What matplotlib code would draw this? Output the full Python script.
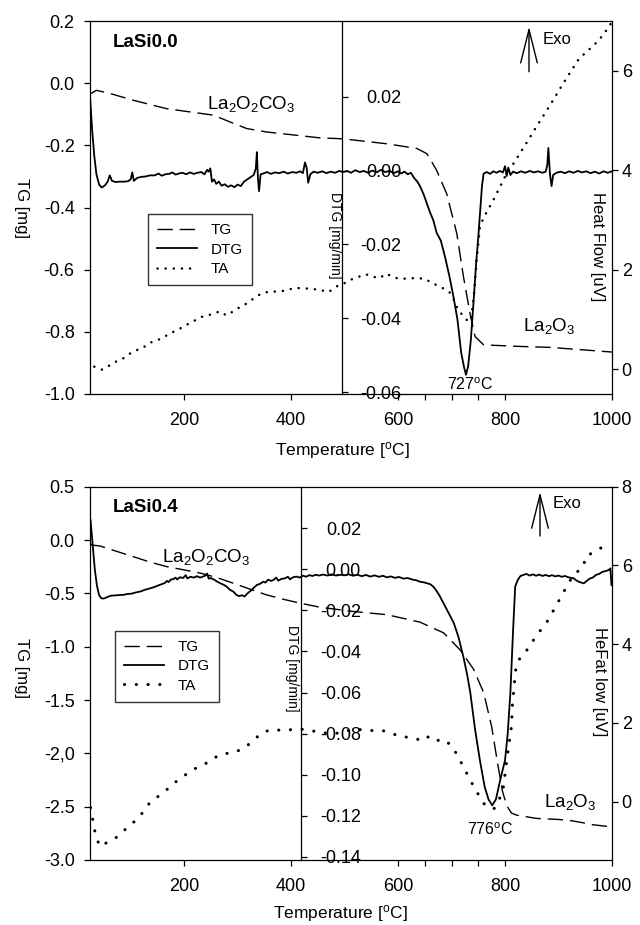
import matplotlib
matplotlib.use('Agg')
import matplotlib.pyplot as plt

plt.rcParams['font.family'] = ['Liberation Sans', 'DejaVu Sans']
plt.rcParams['mathtext.fontset'] = 'custom'
plt.rcParams['mathtext.rm'] = 'Liberation Sans'
plt.rcParams['mathtext.it'] = 'Liberation Sans:italic'
plt.rcParams['mathtext.bf'] = 'Liberation Sans:bold'
plt.rcParams['axes.unicode_minus'] = False

# ---------------- DATA : LaSi0.0 (top) ----------------
top_tg_T = [24, 36, 61, 105, 167, 255, 286, 317, 354, 454, 497, 579, 635, 654, 672, 691,
            710, 722, 735, 744, 760, 828, 884, 1000]
top_tg = [-0.035, -0.023, -0.033, -0.055, -0.082, -0.103, -0.125, -0.146, -0.157, -0.176,
          -0.179, -0.195, -0.210, -0.227, -0.280, -0.356, -0.485, -0.620, -0.745, -0.815,
          -0.842, -0.847, -0.850, -0.865]

top_dtg_T = [24, 28, 32, 36, 41, 46, 52, 57, 61, 65, 72, 80, 88, 95, 100, 103, 106, 112, 120,
             128, 136, 145, 152, 158, 165, 172, 178, 184, 190, 197, 204, 211, 218, 225, 232,
             238, 243, 246, 249, 252, 256, 260, 265, 270, 276, 282, 288, 294, 300, 306, 312,
             318, 324, 330, 334, 336, 338, 340, 343, 348, 355, 362, 370, 378, 386, 394, 402,
             410, 417, 422, 426, 429, 432, 436, 442, 450, 458, 466, 474, 482, 490, 497, 505,
             512, 520, 528, 536, 544, 552, 560, 568, 576, 584, 592, 600, 606, 612, 618, 624,
             630, 636, 641, 648, 654, 660, 666, 672, 680, 688, 696, 704, 711, 718, 723, 727,
             731, 736, 741, 746, 750, 754, 757, 760, 766, 772, 778, 784, 790, 796, 800, 803,
             806, 810, 815, 822, 830, 838, 846, 854, 862, 870, 876, 879, 881, 884, 887, 890,
             896, 904, 912, 920, 928, 936, 944, 952, 960, 968, 976, 984, 992, 1000]
top_dtg = [0.020, 0.011, 0.004, -0.001, -0.0038, -0.0046, -0.0040, -0.0030, -0.0013, -0.0028,
           -0.0031, -0.0030, -0.0030, -0.0029, -0.0024, -0.0005, -0.0028, -0.0020, -0.0017,
           -0.0016, -0.0013, -0.0013, -0.0008, -0.0014, -0.0010, -0.0009, -0.0005, -0.0011,
           -0.0008, -0.0006, -0.0010, -0.0005, -0.0009, -0.0006, -0.0004, -0.0010, 0.0002,
           -0.0003, 0.0006, -0.0030, -0.0024, -0.0036, -0.0030, -0.0041, -0.0037, -0.0044,
           -0.0040, -0.0045, -0.0038, -0.0042, -0.0030, -0.0024, -0.0018, -0.0012, 0.0005,
           0.0050, -0.0020, -0.0056, -0.0010, -0.0008, -0.0004, -0.0009, -0.0005, -0.0007,
           -0.0003, -0.0008, -0.0004, -0.0006, -0.0002, -0.0007, 0.0022, 0.0008, -0.0033,
           -0.0010, -0.0003, -0.0006, -0.0002, -0.0007, -0.0003, -0.0006, -0.0001, -0.0004,
           -0.0001, -0.0006, 0.0001, -0.0004, -0.0001, -0.0006, 0.0000, -0.0005, 0.0002,
           -0.0004, -0.0001, -0.0007, -0.0002, -0.0008, -0.0003, -0.0010, -0.0006, -0.0020,
           -0.0030, -0.0042, -0.0065, -0.0090, -0.0114, -0.0135, -0.0168, -0.0190, -0.0235,
           -0.0286, -0.0345, -0.0403, -0.0493, -0.0530, -0.0553, -0.0530, -0.0460, -0.0358,
           -0.0250, -0.0180, -0.0100, -0.0040, -0.0008, -0.0004, -0.0009, -0.0002, -0.0006,
           -0.0001, -0.0005, 0.0012, -0.0015, 0.0008, -0.0012, -0.0003, -0.0007, -0.0002,
           -0.0006, -0.0001, -0.0005, -0.0002, -0.0006, -0.0003, 0.0015, 0.0061, -0.0010,
           -0.0042, -0.0012, -0.0006, -0.0003, -0.0007, -0.0002, -0.0006, -0.0001, -0.0005,
           -0.0002, -0.0007, -0.0003, -0.0008, -0.0002, -0.0006, -0.0002]

top_ta_T = [32, 46, 60, 74, 84, 96, 108, 118, 130, 140, 150, 161, 176, 190, 199, 210, 222,
            232, 242, 255, 267, 279, 290, 300, 314, 330, 344, 360, 375, 390, 405, 417, 430,
            451, 470, 480, 489, 500, 512, 525, 539, 552, 566, 577, 590, 600, 615, 630, 650,
            662, 672, 685, 696, 705, 711, 718, 726, 732, 737, 742, 747, 753, 760, 768, 778,
            790, 803, 815, 828, 843, 859, 875, 890, 905, 921, 937, 952, 965, 978, 990, 998]
top_ta = [0.05, -0.01, 0.07, 0.16, 0.20, 0.30, 0.36, 0.42, 0.47, 0.55, 0.58, 0.64, 0.73, 0.80,
          0.86, 0.92, 0.99, 1.05, 1.07, 1.12, 1.16, 1.08, 1.15, 1.22, 1.30, 1.42, 1.52, 1.56,
          1.56, 1.58, 1.63, 1.63, 1.62, 1.60, 1.55, 1.62, 1.69, 1.73, 1.80, 1.85, 1.91, 1.86,
          1.83, 1.92, 1.86, 1.82, 1.82, 1.83, 1.82, 1.74, 1.69, 1.62, 1.55, 1.38, 1.22, 1.12,
          1.02, 0.95, 1.05, 1.50, 2.20, 2.85, 3.05, 3.20, 3.40, 3.65, 3.94, 4.12, 4.34, 4.60,
          4.88, 5.15, 5.41, 5.68, 5.95, 6.22, 6.38, 6.50, 6.65, 6.82, 6.95]

# ---------------- DATA : LaSi0.4 (bottom) ----------------
bot_tg_T = [25, 27, 43, 70, 105, 135, 167, 200, 230, 260, 292, 320, 354, 385, 417, 454, 516,
            579, 641, 685, 716, 741, 760, 775, 785, 795, 803, 812, 822, 859, 900, 922, 945,
            965, 1000]
bot_tg = [-0.035, -0.047, -0.056, -0.100, -0.156, -0.205, -0.249, -0.280, -0.310, -0.350,
          -0.405, -0.455, -0.514, -0.555, -0.592, -0.630, -0.670, -0.700, -0.770, -0.870,
          -1.030, -1.210, -1.430, -1.750, -2.060, -2.350, -2.490, -2.560, -2.580, -2.610,
          -2.620, -2.630, -2.650, -2.670, -2.690]

bot_dtg_T = [25, 29, 33, 37, 41, 45, 50, 56, 63, 70, 78, 86, 94, 102, 110, 118, 126, 134, 142,
             150, 158, 164, 168, 171, 175, 180, 184, 187, 192, 198, 203, 206, 212, 218, 224,
             230, 236, 240, 243, 246, 250, 256, 262, 268, 274, 280, 286, 292, 298, 303, 308,
             313, 318, 324, 330, 336, 342, 348, 352, 357, 362, 367, 372, 376, 382, 388, 394,
             398, 404, 410, 416, 422, 428, 434, 440, 446, 452, 460, 468, 476, 484, 492, 500,
             508, 516, 524, 532, 540, 548, 556, 564, 572, 579, 586, 594, 602, 610, 618, 626,
             634, 641, 648, 655, 660, 666, 672, 678, 685, 694, 704, 713, 722, 729, 735, 744,
             753, 762, 769, 776, 783, 791, 800, 805, 810, 815, 819, 824, 829, 834, 840, 846,
             852, 858, 864, 870, 876, 882, 888, 894, 900, 906, 912, 918, 924, 928, 934, 940,
             947, 952, 958, 964, 970, 976, 982, 988, 994, 997, 999]
bot_dtg = [0.024, 0.012, 0.000, -0.008, -0.0125, -0.0141, -0.0142, -0.0135, -0.0128, -0.0127,
           -0.0125, -0.0124, -0.0120, -0.0118, -0.0112, -0.0108, -0.0100, -0.0094, -0.0088,
           -0.0080, -0.0072, -0.0066, -0.0056, -0.0062, -0.0050, -0.0047, -0.0040, -0.0049,
           -0.0038, -0.0042, -0.0028, -0.0044, -0.0036, -0.0040, -0.0033, -0.0040, -0.0034,
           -0.0030, -0.0020, -0.0045, -0.0042, -0.0050, -0.0060, -0.0068, -0.0075, -0.0085,
           -0.0100, -0.0108, -0.0125, -0.0130, -0.0126, -0.0132, -0.0118, -0.0105, -0.0090,
           -0.0076, -0.0070, -0.0060, -0.0064, -0.0050, -0.0056, -0.0052, -0.0040, -0.0055,
           -0.0046, -0.0044, -0.0036, -0.0048, -0.0038, -0.0035, -0.0040, -0.0030, -0.0036,
           -0.0028, -0.0032, -0.0026, -0.0030, -0.0025, -0.0030, -0.0024, -0.0030, -0.0026,
           -0.0029, -0.0024, -0.0031, -0.0026, -0.0033, -0.0027, -0.0035, -0.0029, -0.0036,
           -0.0031, -0.0039, -0.0034, -0.0041, -0.0037, -0.0045, -0.0042, -0.0049, -0.0053,
           -0.0060, -0.0063, -0.0068, -0.0072, -0.0084, -0.0105, -0.0130, -0.0165, -0.0210,
           -0.0260, -0.0330, -0.0425, -0.0510, -0.0600, -0.0780, -0.0930, -0.1060, -0.1120,
           -0.1150, -0.1120, -0.1026, -0.0930, -0.0800, -0.0600, -0.0300, -0.0084, -0.0050,
           -0.0032, -0.0027, -0.0022, -0.0030, -0.0024, -0.0031, -0.0025, -0.0032, -0.0027,
           -0.0033, -0.0028, -0.0034, -0.0030, -0.0036, -0.0032, -0.0038, -0.0042, -0.0043,
           -0.0055, -0.0062, -0.0068, -0.0058, -0.0045, -0.0040, -0.0027, -0.0022, -0.0012,
           -0.0008, -0.0003, 0.0005, -0.0076]

bot_ta_T = [25, 30, 35, 43, 55, 68, 80, 90, 100, 111, 124, 136, 150, 167, 184, 199, 215, 230,
            245, 260, 275, 290, 302, 314, 330, 344, 360, 375, 390, 405, 420, 435, 451, 470,
            489, 505, 520, 540, 558, 573, 590, 604, 620, 642, 653, 668, 683, 699, 710, 722,
            733, 745, 753, 760, 771, 780, 790, 797, 801, 805, 812, 814, 820, 828, 837, 849,
            862, 877, 896, 915, 928, 947, 950, 962, 978, 993]
bot_ta = [-0.15, -0.52, -0.89, -1.14, -1.04, -0.95, -0.85, -0.70, -0.58, -0.46, -0.25, -0.02,
          0.12, 0.30, 0.50, 0.65, 0.80, 0.91, 1.00, 1.14, 1.22, 1.24, 1.30, 1.38, 1.56, 1.74,
          1.82, 1.82, 1.81, 1.84, 1.84, 1.82, 1.76, 1.74, 1.74, 1.80, 1.84, 1.82, 1.80, 1.80,
          1.72, 1.67, 1.63, 1.57, 1.67, 1.53, 1.59, 1.44, 1.20, 0.89, 0.60, 0.30, 0.12, -0.04,
          -0.17, -0.17, 0.09, 0.38, 0.81, 1.23, 1.91, 2.50, 3.35, 3.66, 3.77, 4.02, 4.28, 4.53,
          4.99, 5.46, 5.76, 5.97, 6.22, 6.31, 6.43, 6.60]

# tick labels
x_ticks = [200, 400, 600, 800, 1000]
x_minor = [650, 700, 750]
top_tg_ticks = [0.2, 0.0, -0.2, -0.4, -0.6, -0.8, -1.0]
top_tg_labels = ['0.2', '0.0', '-0.2', '-0.4', '-0.6', '-0.8', '-1.0']
top_dtg_ticks = [0.02, 0.0, -0.02, -0.04, -0.06]
top_dtg_labels = ['0.02', '0.00', '-0.02', '-0.04', '-0.06']
top_hf_ticks = [0, 2, 4, 6]
bot_tg_ticks = [0.5, 0.0, -0.5, -1.0, -1.5, -2.0, -2.5, -3.0]
bot_tg_labels = ['0.5', '0.0', '-0.5', '-1.0', '-1.5', '-2,0', '-2.5', '-3.0']
bot_dtg_ticks = [0.02, 0.0, -0.02, -0.04, -0.06, -0.08, -0.10, -0.12, -0.14]
bot_dtg_labels = ['0.02', '0.00', '-0.02', '-0.04', '-0.06', '-0.08', '-0.10', '-0.12', '-0.14']
bot_hf_ticks = [0, 2, 4, 6, 8]

W, H = 640, 925
fig = plt.figure(figsize=(W / 100, H / 100), dpi=100)


def fx(px):
    return px / W


def fy(py):
    return 1 - py / H


def ftext(px, py, s, **kw):
    fig.text(fx(px), fy(py), s, **kw)


TICK = 13
SP_LW = 0.9


def panel(top_px, bot_px, tg_lim, tg_ticks, tg_labels, dtg_lim, dtg_ticks, dtg_labels,
          dtg_spine, hf_lim, hf_ticks, T_tg, tg, T_dtg, dtg, T_ta, ta, ta_lw, ta_gap,
          legend_anchor):
    left, right = 90, 612
    ax = fig.add_axes([fx(left), fy(bot_px), (right - left) / W, (bot_px - top_px) / H])
    ax.set_xlim(24, 1000)
    ax.set_ylim(*tg_lim)
    ax2 = ax.twinx()
    ax2.set_ylim(*hf_lim)
    ax3 = ax.twinx()
    ax3.set_ylim(*dtg_lim)

    l1, = ax.plot(T_tg, tg, color='black', lw=1.0, linestyle=(0, (11, 5)), label='TG')
    l2, = ax3.plot(T_dtg, dtg, color='black', lw=1.3, label='DTG')
    l3, = ax2.plot(T_ta, ta, color='black', lw=ta_lw, linestyle=(0, (0.05, ta_gap)),
                   dash_capstyle='round', label='TA')

    for s in ['left', 'bottom', 'top']:
        ax.spines[s].set_linewidth(SP_LW)
    ax.spines['right'].set_visible(False)
    for s in ['left', 'top', 'bottom']:
        ax2.spines[s].set_visible(False)
        ax3.spines[s].set_visible(False)
    ax2.spines['right'].set_linewidth(SP_LW)
    ax3.spines['right'].set_position(('data', dtg_spine))
    ax3.spines['right'].set_linewidth(SP_LW)

    ax.set_xticks(x_ticks)
    ax.set_xticklabels([str(v) for v in x_ticks])
    ax.set_xticks(x_minor, minor=True)
    ax.set_yticks(tg_ticks)
    ax.set_yticklabels(tg_labels)
    ax.tick_params(axis='x', which='both', direction='out', length=4, width=SP_LW,
                   labelsize=TICK, pad=9)
    ax.tick_params(axis='y', direction='out', length=4, width=SP_LW, labelsize=TICK, pad=7)

    ax2.set_yticks(hf_ticks)
    ax2.set_yticklabels([str(v) for v in hf_ticks])
    ax2.tick_params(axis='y', direction='out', length=4, width=SP_LW, labelsize=TICK, pad=3)

    ax3.set_yticks(dtg_ticks)
    ax3.set_yticklabels(dtg_labels, ha='right')
    ax3.tick_params(axis='y', direction='out', length=4, width=SP_LW, labelsize=TICK, pad=39)

    leg = ax.legend(handles=[l1, l2, l3], loc='upper left', bbox_to_anchor=legend_anchor,
                    fontsize=11, frameon=True, fancybox=False, edgecolor='black',
                    handlelength=2.6, handletextpad=0.9, borderpad=0.6, labelspacing=0.35,
                    borderaxespad=0)
    leg.get_frame().set_linewidth(1.0)
    leg.set_zorder(10)
    return ax, ax2, ax3


# top panel
panel(21, 394, (-1.0, 0.2), top_tg_ticks, top_tg_labels, (-0.0605, 0.0405), top_dtg_ticks,
      top_dtg_labels, 495, (-0.5, 7.0), top_hf_ticks, top_tg_T, top_tg, top_dtg_T, top_dtg,
      top_ta_T, top_ta, 1.8, 3.2, (0.1105, 0.4818))
# bottom panel
panel(486.7, 860, (-3.0, 0.5), bot_tg_ticks, bot_tg_labels, (-0.1416, 0.0403), bot_dtg_ticks,
      bot_dtg_labels, 419, (-1.48, 8.0), bot_hf_ticks, bot_tg_T, bot_tg, bot_dtg_T, bot_dtg,
      bot_ta_T, bot_ta, 2.2, 3.8, (0.048, 0.614))

LBL = 12

# top panel texts
ftext(112.7, 42.7, 'LaSi0.0', fontsize=13.5, fontweight='bold', va='center', ha='left')
ftext(207, 109.3, r'La$_2$O$_2$CO$_3$', fontsize=13.5, va='baseline', ha='left')
ftext(542.7, 39, 'Exo', fontsize=12, va='center', ha='left')
ftext(523, 330.7, r'La$_2$O$_3$', fontsize=13.5, va='baseline', ha='left')
ftext(446.7, 390, r'727$^{\mathrm{o}}$C', fontsize=11.5, va='baseline', ha='left')
ftext(21, 208, 'TG [mg]', fontsize=LBL, rotation=270, va='center', ha='center')
ftext(335, 235, 'DTG [mg/min]', fontsize=10, rotation=270, va='center', ha='center')
ftext(598, 247, 'Heat Flow [uV]', fontsize=LBL, rotation=270, va='center', ha='center')
ftext(342.5, 450.7, r'Temperature [$^{\mathrm{o}}$C]', fontsize=12.5, va='center', ha='center')

# bottom panel texts
ftext(112.7, 508, 'LaSi0.4', fontsize=13.5, fontweight='bold', va='center', ha='left')
ftext(161.7, 562.3, r'La$_2$O$_2$CO$_3$', fontsize=13.5, va='baseline', ha='left')
ftext(552.3, 503.3, 'Exo', fontsize=12, va='center', ha='left')
ftext(544, 806.7, r'La$_2$O$_3$', fontsize=13.5, va='baseline', ha='left')
ftext(466.7, 835, r'776$^{\mathrm{o}}$C', fontsize=11.5, va='baseline', ha='left')
ftext(21, 668, 'TG [mg]', fontsize=LBL, rotation=270, va='center', ha='center')
ftext(292, 668, 'DTG [mg/min]', fontsize=10, rotation=270, va='center', ha='center')
ftext(599, 682, 'HeFat low [uV]', fontsize=LBL, rotation=270, va='center', ha='center')
ftext(340.5, 913, r'Temperature [$^{\mathrm{o}}$C]', fontsize=12.5, va='center', ha='center')

# Exo arrows
for xpx, y0, y1 in [(529, 71.7, 26.7), (540, 536, 492)]:
    fig.add_artist(matplotlib.patches.FancyArrowPatch(
        (fx(xpx), fy(y0)), (fx(xpx), fy(y1)), transform=fig.transFigure,
        arrowstyle='->,head_length=1.2,head_width=0.3', mutation_scale=20,
        lw=1.0, color='black', shrinkA=0, shrinkB=0))

fig.savefig('out.png', dpi=100)
